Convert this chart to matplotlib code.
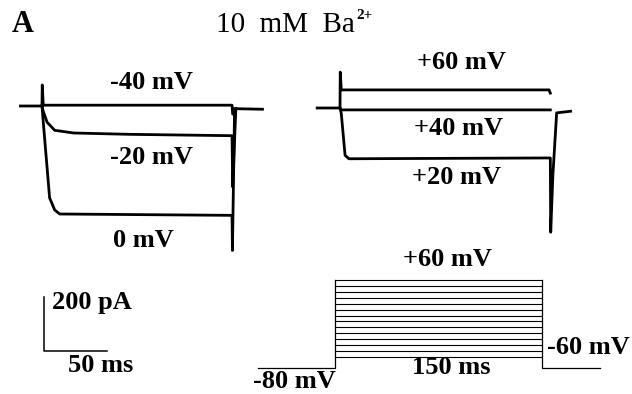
import matplotlib.pyplot as plt

W, H = 632, 394

# current traces, time in ms, current in pA
left_t_m40 = [-17, 0, 0.2, 1, 150, 150.5, 153, 174]
left_i_m40 = [0, 0, 78, 3, 3, -30, -10, -12]
left_t_m20 = [0, 1, 4, 10, 25, 70, 150, 150.5, 153]
left_i_m20 = [0, -20, -60, -90, -100, -105, -110, -300, -10]
left_t_0 = [0, 1, 6, 10, 14, 150, 150.3, 152]
left_i_0 = [0, -60, -340, -385, -400, -405, -535, -10]

right_t_p60 = [-18, 0, 0.2, 1, 165, 166]
right_i_p60 = [0, 0, 133, 67, 67, 55]
right_t_p40 = [0, 1, 166]
right_i_p40 = [0, -7, -7]
right_t_p20 = [0, 1, 4, 7, 166, 166.3, 168, 171, 182]
right_i_p20 = [0, -20, -175, -188, -185, -460, -250, -18, -12]

# voltage protocol
step_levels = list(range(-70, 70, 10))
step_on, step_off = 0, 150
pre_t, post_t = -56, 192
base_draw = -88.6          # holding level as drawn in the schematic

# scale bars
bar_ms, bar_pA = 50, 200

fig = plt.figure(figsize=(W / 100, H / 100), dpi=100)


def overlay(x0, y0, px_x, px_y):
    ax = fig.add_axes([0, 0, 1, 1])
    ax.set_xlim(-x0 / px_x, (W - x0) / px_x)
    ax.set_ylim((y0 - H) / px_y, y0 / px_y)
    ax.axis("off")
    ax.patch.set_alpha(0)
    return ax


k = "black"
axl = overlay(42, 106, 1.267, 0.27)
for t, i in [(left_t_m40, left_i_m40), (left_t_m20, left_i_m20), (left_t_0, left_i_0)]:
    axl.plot(t, i, color=k, lw=2.0, solid_joinstyle="round")
# scale bar
axl.plot([1.6, 1.6, 1.6 + bar_ms], [-907 + bar_pA, -907, -907], color=k, lw=1.1)

axr = overlay(340, 108, 1.267, 0.27)
for t, i in [(right_t_p60, right_i_p60), (right_t_p40, right_i_p40), (right_t_p20, right_i_p20)]:
    axr.plot(t, i, color=k, lw=2.0, solid_joinstyle="round")

axv = overlay(335, 315.5, 1.38, 0.592)
axv.plot([pre_t, step_on, step_on], [base_draw, base_draw, max(step_levels)], color=k, lw=0.9)
axv.plot([step_off, step_off, post_t], [max(step_levels), base_draw, base_draw], color=k, lw=0.9)
for v in step_levels:
    axv.plot([step_on, step_off], [v, v], color=k, lw=0.8)

# text layer in pixel coordinates
axt = fig.add_axes([0, 0, 1, 1])
axt.set_xlim(0, W)
axt.set_ylim(H, 0)
axt.axis("off")
axt.patch.set_alpha(0)

serif = "Liberation Serif"
bold = dict(family=serif, weight="bold", fontsize=19, ha="center", va="center")
axt.text(12, 24, "A", family=serif, weight="bold", fontsize=22, ha="left", va="center")
axt.text(216, 25, "10  mM  Ba", family=serif, fontsize=21, ha="left", va="center")
axt.text(356, 15, "2+", family=serif, weight="bold", fontsize=11, ha="left", va="center")
labels = [(151, 82, "-40 mV"), (151, 157, "-20 mV"), (143, 240, "0 mV"),
          (461, 62, "+60 mV"), (459, 128, "+40 mV"), (457, 177, "+20 mV"),
          (447, 260, "+60 mV"), (588, 348, "-60 mV"), (451, 368, "150 ms"),
          (294, 382, "-80 mV"), (92, 303, "200 pA"), (101, 365, "50 ms")]
for x, y, s in labels:
    axt.text(x, y, s, **bold)

fig.savefig("out.png", dpi=100)
